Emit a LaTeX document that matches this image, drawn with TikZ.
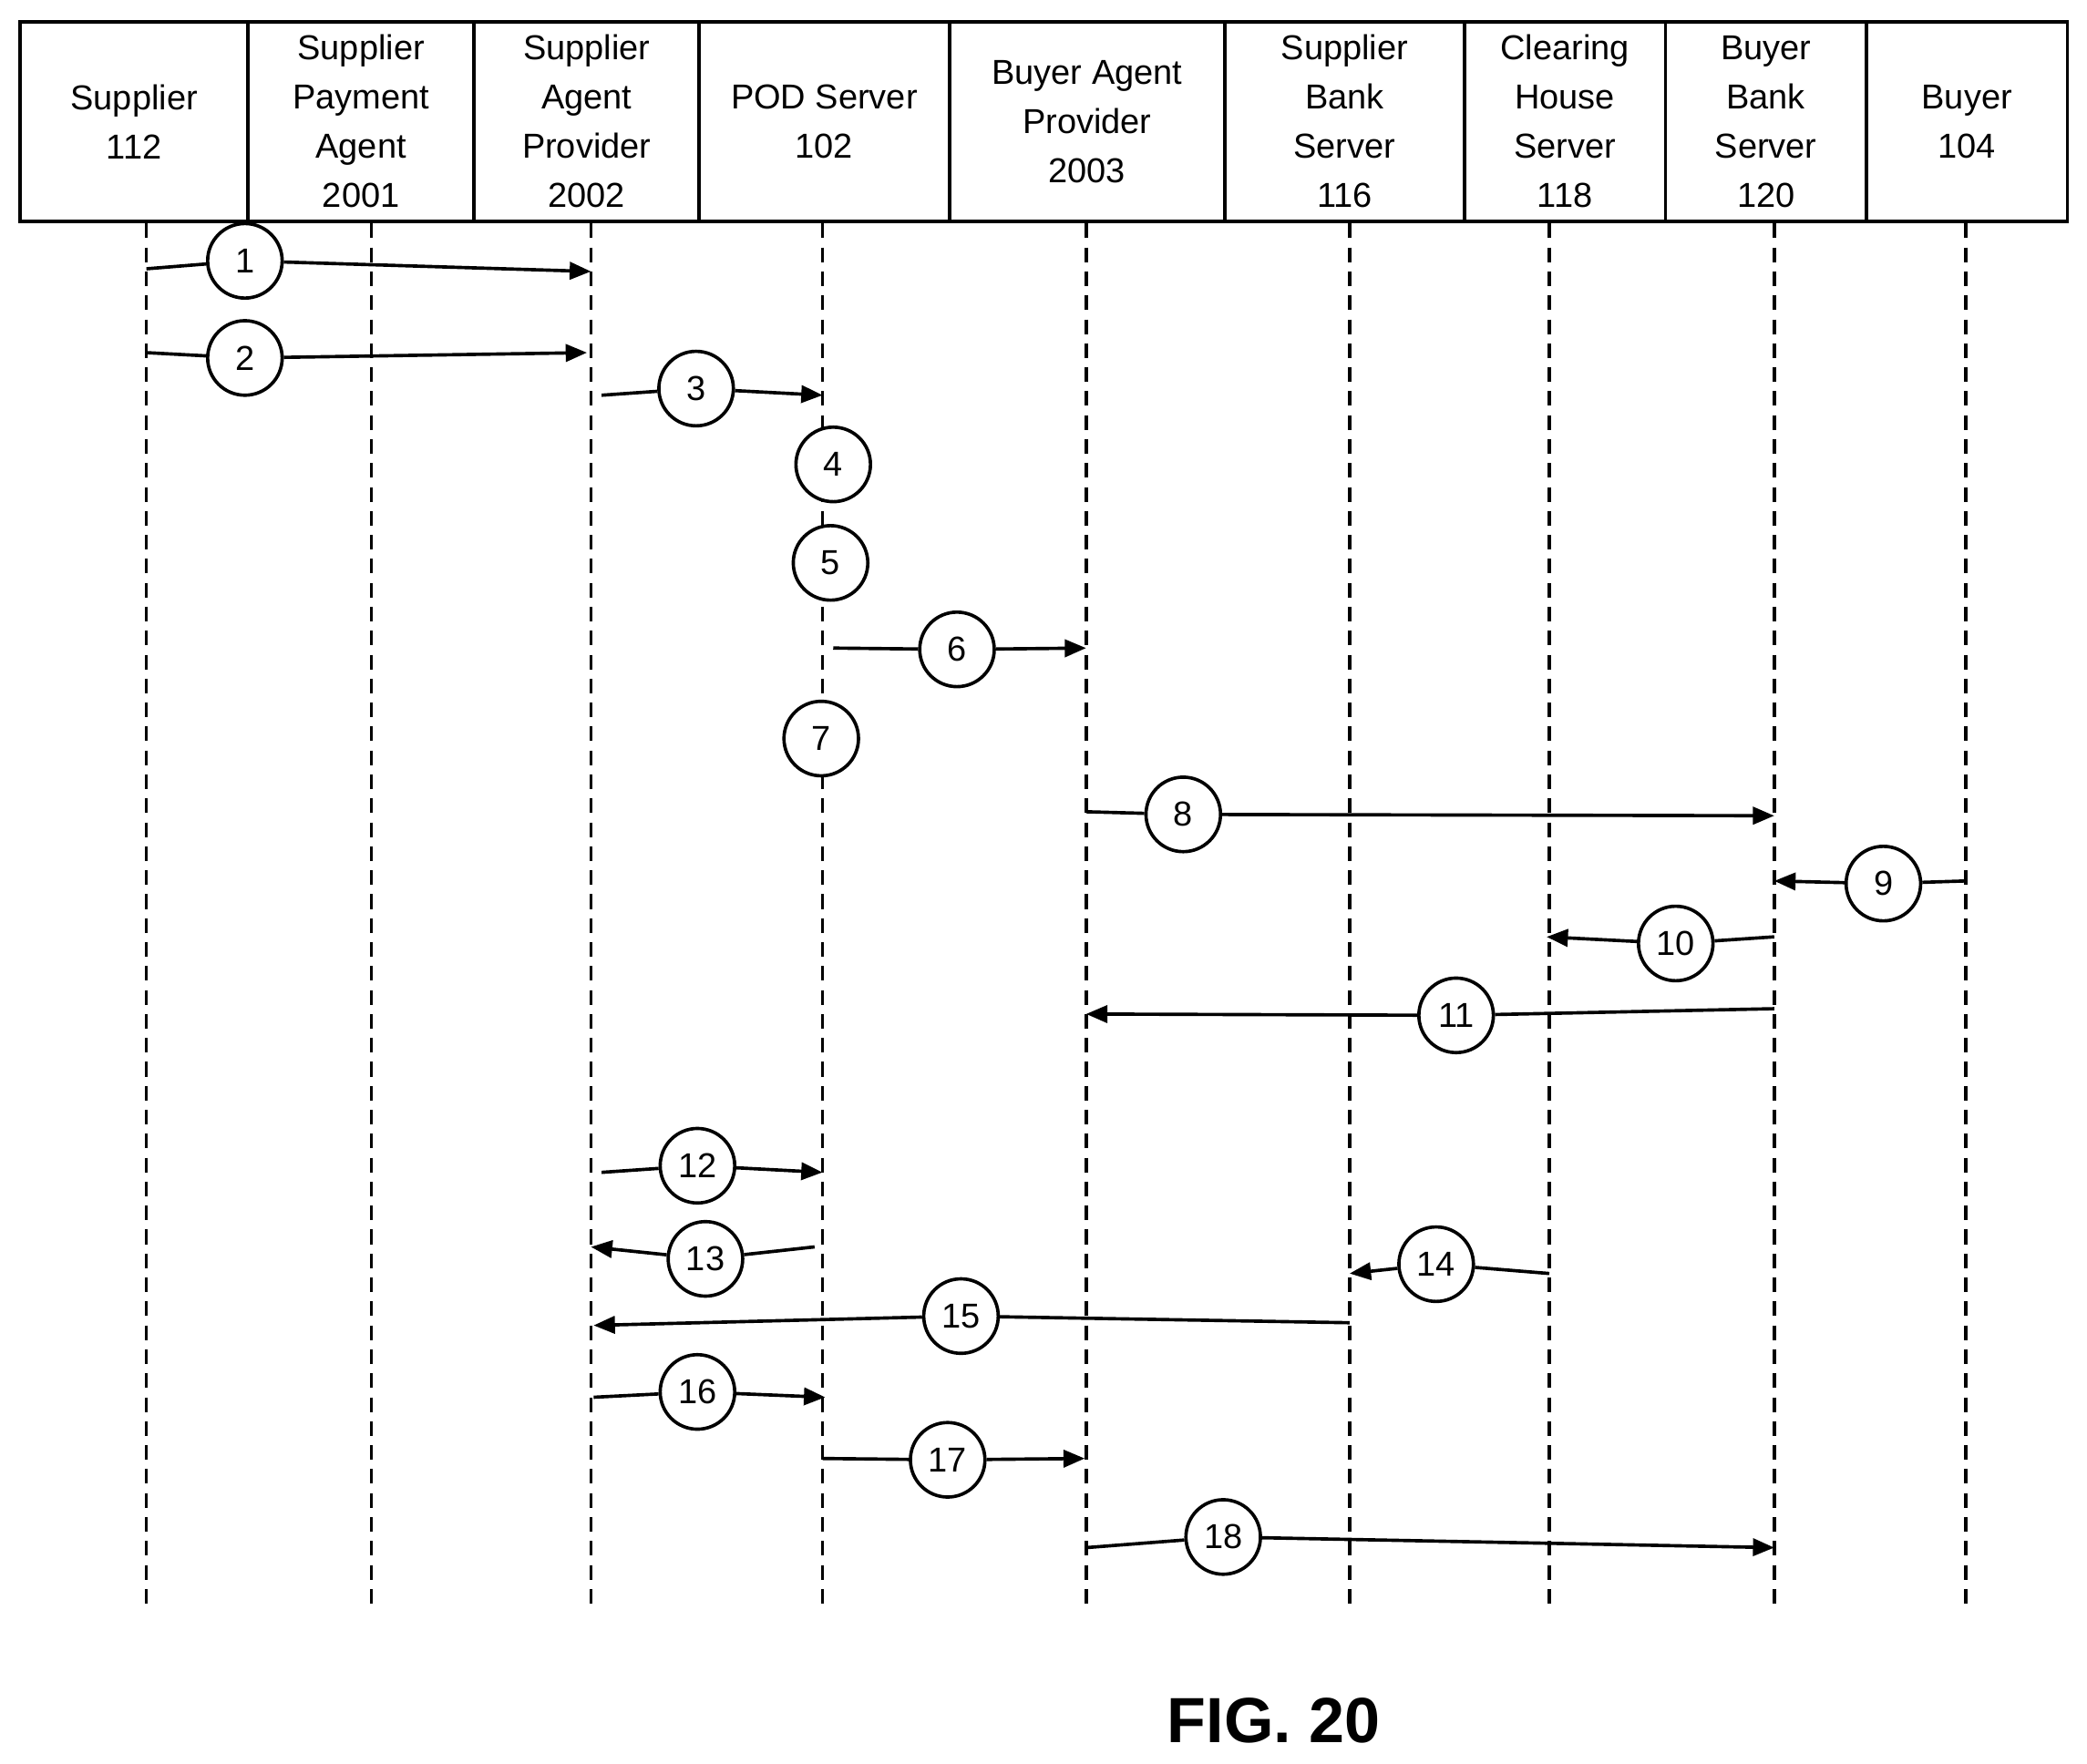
\documentclass[tikz,border=0pt]{standalone}
\usepackage{fontspec}
\setmainfont{Liberation Sans}
\usetikzlibrary{arrows.meta}
\begin{document}
\begin{tikzpicture}[x=1pt,y=-1pt,
  hdr/.style={draw,line width=2.5pt,minimum height=150pt,anchor=north west,inner sep=0pt,
     font=\fontsize{26}{37}\selectfont,align=center},
  life/.style={line width=2.5pt,dash pattern=on 11pt off 7pt},
  circ/.style={draw,circle,line width=2.5pt,minimum size=56pt,inner sep=0pt,fill=white,
     font=\fontsize{26}{30}\selectfont},
  msg/.style={line width=2.5pt},
  arr/.style={line width=2.5pt,-{Triangle[length=16pt,width=13pt]}}]
\useasboundingbox (0,0) rectangle (1568,1325);
\foreach \n/\l/\r/\t in {h1/14/185/{Supplier\\112},h2/185/355/{Supplier\\Payment\\Agent\\2001},
 h3/355/524/{Supplier\\Agent\\Provider\\2002},h4/524/712/{POD Server\\102},
 h5/712/919/{Buyer Agent\\Provider\\2003},h6/919/1099/{Supplier\\Bank\\Server\\116},
 h7/1099/1250/{Clearing\\House\\Server\\118},h8/1250/1401/{Buyer\\Bank\\Server\\120},
 h9/1401/1552/{Buyer\\104}}
 {\pgfmathsetmacro\w{\r-\l}
  \node[hdr,minimum width=\w pt] (\n) at (\l,15) {\t};}
\foreach \n/\x in {l1/110,l2/279,l3/444,l4/618,l5/816,l6/1014,l7/1164,l8/1333,l9/1477}
 {\coordinate (\n t) at (\x,168); \coordinate (\n b) at (\x,1210);
  \draw[life] (\n t) -- (\n b);}
\foreach \n/\xa/\xb/\ya/\yb/\cx/\cy in {1/110/444/202/204/184/196,2/110/441/265/265/184/269,
 3/452/618/297/297/523/292,6/626/816/487/487/719/488,8/816/1333/610/613/889/612,
 9/1477/1333/662/662/1415/664,10/1333/1162/704/704/1259/709,11/1333/816/758/762/1094/763,
 12/452/618/881/881/524/876,13/612/444/937/937/530/946,14/1164/1014/957/957/1079/950,
 15/1014/446/994/996/722/989,16/446/620/1050/1050/524/1046,17/618/815/1096/1096/712/1097,
 18/816/1333/1163/1163/919/1155}
 {\coordinate (s\n) at (\xa,\ya); \coordinate (e\n) at (\xb,\yb);
  \node[circ] (c\n) at (\cx,\cy) {\n};
  \draw[msg] (s\n) -- (c\n);
  \draw[arr] (c\n) -- (e\n);}
\foreach \n/\cx/\cy in {4/626/349,5/624/423,7/617/555}
  \node[circ] (c\n) at (\cx,\cy) {\n};
\node[font=\bfseries\fontsize{48}{50}\selectfont] (fig) at (957,1293) {FIG. 20};
\end{tikzpicture}
\end{document}
